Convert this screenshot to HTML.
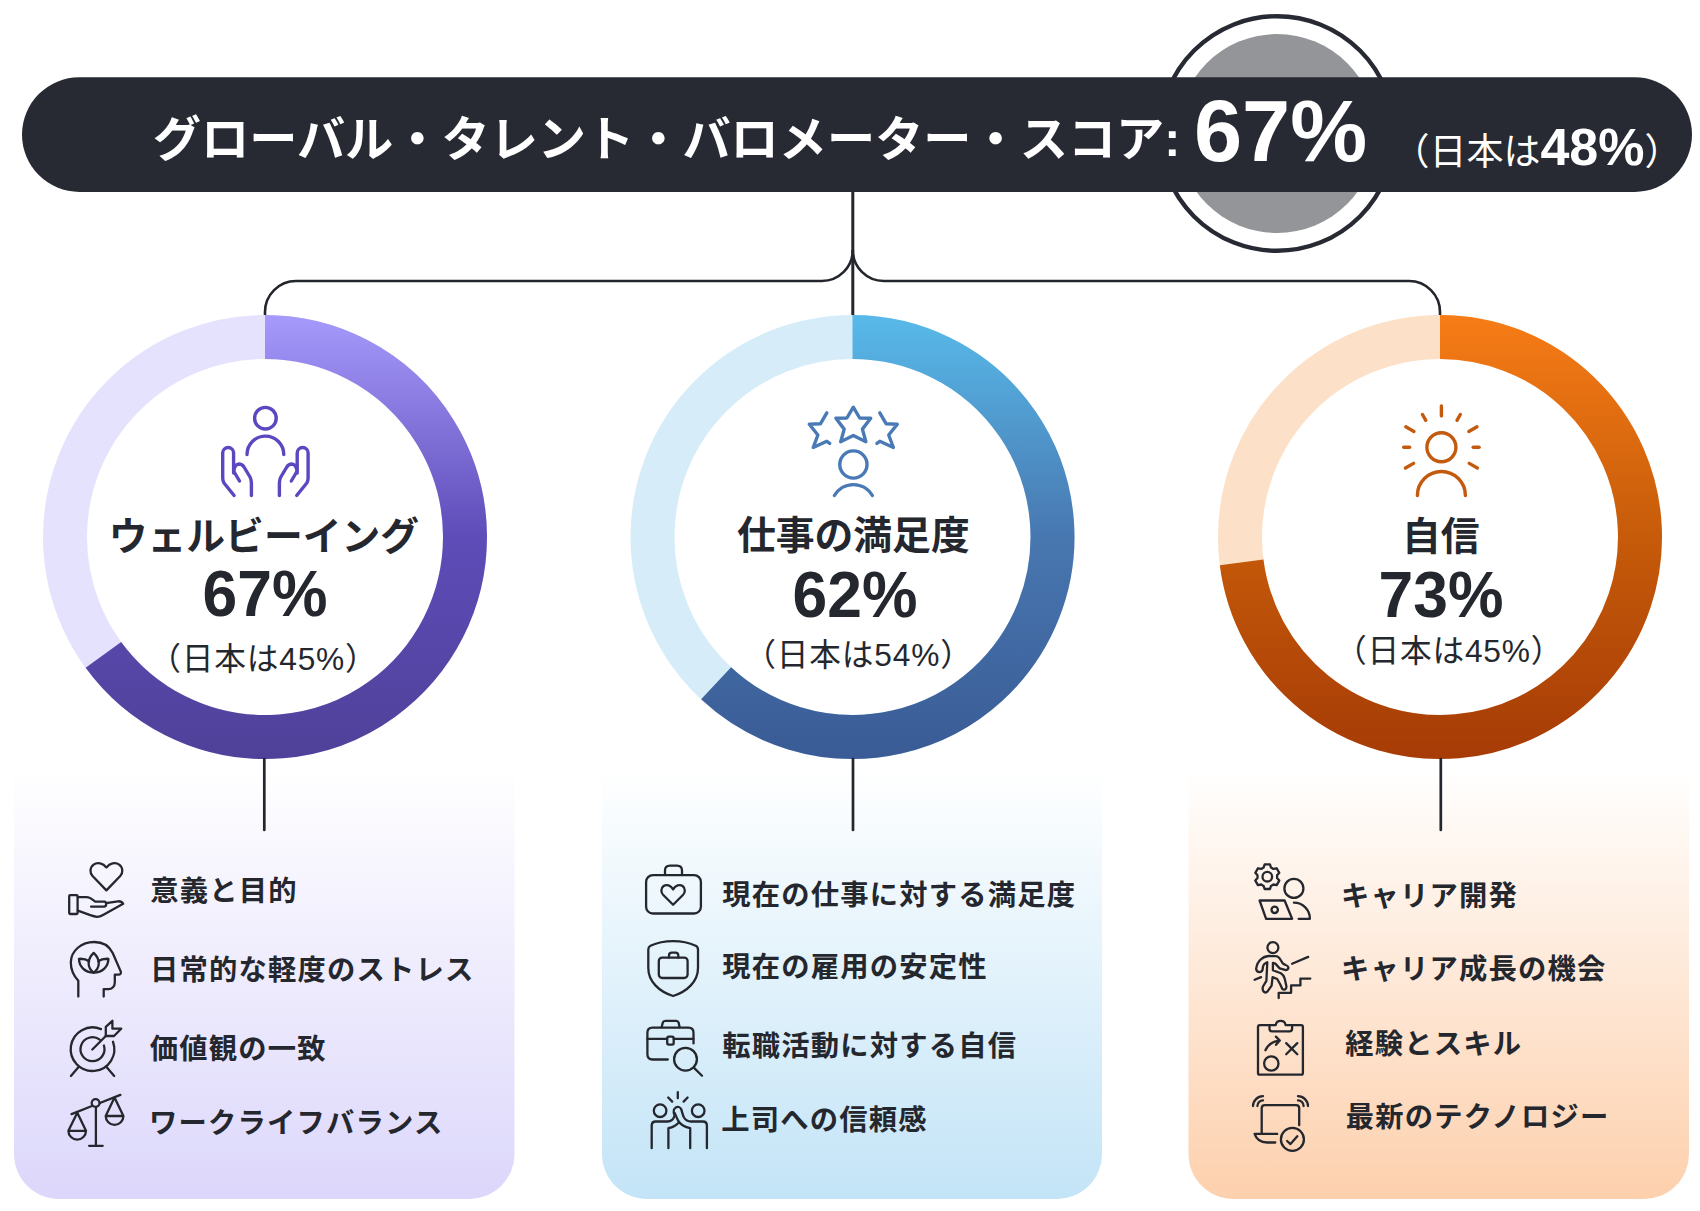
<!DOCTYPE html>
<html lang="ja"><head><meta charset="utf-8"><title>Global Talent Barometer</title>
<style>
html,body{margin:0;padding:0;background:#fff;}
body{width:1700px;height:1211px;position:relative;overflow:hidden;font-family:"Liberation Sans", "Noto Sans CJK JP", sans-serif;}
.t{position:absolute;line-height:1;white-space:nowrap;}
b{font-weight:700}
</style></head><body>
<svg width="1700" height="1211" viewBox="0 0 1700 1211" style="position:absolute;left:0;top:0"><defs><linearGradient id="cg0" x1="0" y1="0" x2="0" y2="1"><stop offset="0" stop-color="#ffffff"/><stop offset="1" stop-color="#dcd7fb"/></linearGradient><linearGradient id="cg1" x1="0" y1="0" x2="0" y2="1"><stop offset="0" stop-color="#ffffff"/><stop offset="1" stop-color="#c3e4f7"/></linearGradient><linearGradient id="cg2" x1="0" y1="0" x2="0" y2="1"><stop offset="0" stop-color="#ffffff"/><stop offset="1" stop-color="#fdd0ad"/></linearGradient><linearGradient id="rg0" gradientUnits="userSpaceOnUse" x1="0" y1="315" x2="0" y2="759"><stop offset="0" stop-color="#a69afc"/><stop offset="0.5" stop-color="#5e4cb8"/><stop offset="1" stop-color="#4f4199"/></linearGradient><linearGradient id="rg1" gradientUnits="userSpaceOnUse" x1="0" y1="315" x2="0" y2="759"><stop offset="0" stop-color="#58baea"/><stop offset="0.5" stop-color="#4877b0"/><stop offset="1" stop-color="#3a5b95"/></linearGradient><linearGradient id="rg2" gradientUnits="userSpaceOnUse" x1="0" y1="315" x2="0" y2="759"><stop offset="0" stop-color="#f77c16"/><stop offset="0.5" stop-color="#c65b0a"/><stop offset="1" stop-color="#a63b06"/></linearGradient></defs><circle cx="1277" cy="133.5" r="117.3" fill="#fff" stroke="#282a33" stroke-width="4.4"/>
<circle cx="1277" cy="133.5" r="99.5" fill="#939598"/>
<rect x="22" y="77.3" width="1670" height="114.6" rx="57.3" fill="#282a33"/>
<path d="M852.8,191 V315" stroke="#24262d" stroke-width="3" fill="none"/>
<path d="M852.8,250 A31,31 0 0 1 821.8,281 H296 A31,31 0 0 0 265,312 V315" stroke="#24262d" stroke-width="2.6" fill="none"/>
<path d="M852.8,250 A31,31 0 0 0 883.8,281 H1409 A31,31 0 0 1 1440,312 V315" stroke="#24262d" stroke-width="2.6" fill="none"/>
<path d="M14,767.5 H514.5 V1154 A45,45 0 0 1 469.5,1199 H59 A45,45 0 0 1 14,1154 Z" fill="url(#cg0)"/>
<path d="M602,767.5 H1102 V1154 A45,45 0 0 1 1057,1199 H647 A45,45 0 0 1 602,1154 Z" fill="url(#cg1)"/>
<path d="M1188.5,767.5 H1689 V1154 A45,45 0 0 1 1644,1199 H1233.5 A45,45 0 0 1 1188.5,1154 Z" fill="url(#cg2)"/>
<circle cx="265" cy="537" r="200.0" fill="#fff" stroke="#e5e2fd" stroke-width="44"/>
<path d="M265.00,337.00 A200.0,200.0 0 1 1 103.40,654.84" fill="none" stroke="url(#rg0)" stroke-width="44"/>
<path d="M264.3,759 V830" stroke="#24262d" stroke-width="2.7" stroke-linecap="round" fill="none"/>
<circle cx="852.5" cy="537" r="200.0" fill="#fff" stroke="#d6edf9" stroke-width="44"/>
<path d="M852.50,337.00 A200.0,200.0 0 1 1 716.10,683.27" fill="none" stroke="url(#rg1)" stroke-width="44"/>
<path d="M853,759 V830" stroke="#24262d" stroke-width="2.7" stroke-linecap="round" fill="none"/>
<circle cx="1440" cy="537" r="200.0" fill="#fff" stroke="#fde0c8" stroke-width="44"/>
<path d="M1440.00,337.00 A200.0,200.0 0 1 1 1241.62,562.41" fill="none" stroke="url(#rg2)" stroke-width="44"/>
<path d="M1440.8,759 V830" stroke="#24262d" stroke-width="2.7" stroke-linecap="round" fill="none"/>
<g transform="translate(210,395)" fill="none" stroke="#5a48c0" stroke-width="3.4" stroke-linecap="round" stroke-linejoin="round"><circle cx="55.4" cy="23.2" r="10.8"/><path d="M37,59.5 A18.4,18.4 0 0 1 73.8,59.5"/><path d="M24.1,100.5 L14,88 Q12.7,86 12.7,83 V58 A5.45,5.45 0 0 1 23.6,58 V76 L29.5,86"/><path d="M23.6,78 Q23.8,69.5 29,69 Q32,69 34,72 L40,82 Q41.4,84.5 41.4,88 V100.5"/><g transform="translate(110.8,0) scale(-1,1)"><path d="M24.1,100.5 L14,88 Q12.7,86 12.7,83 V58 A5.45,5.45 0 0 1 23.6,58 V76 L29.5,86"/><path d="M23.6,78 Q23.8,69.5 29,69 Q32,69 34,72 L40,82 Q41.4,84.5 41.4,88 V100.5"/></g></g>
<g transform="translate(798,395)" fill="none" stroke="#4a7ab6" stroke-width="3.4" stroke-linecap="round" stroke-linejoin="round"><path d="M55.30,12.20 L61.70,23.00 L72.70,23.20 L64.40,34.10 L67.90,46.70 L55.30,40.50 L42.70,46.70 L46.20,34.10 L37.90,23.20 L48.90,23.00 Z"/><path d="M28.80,17.90 L22.40,28.80 L11.30,29.30 L19.90,40.00 L15.20,52.50 L28.80,46.30 L31.70,48.40"/><path d="M81.80,17.90 L88.20,28.80 L99.30,29.30 L90.70,40.00 L95.40,52.50 L81.80,46.30 L78.90,48.40"/><circle cx="55.4" cy="69.5" r="13.6"/><path d="M36.4,100.5 A22,22 0 0 1 74.4,100.5"/></g>
<g transform="translate(1386,395)" fill="none" stroke="#c45a0e" stroke-width="3.4" stroke-linecap="round" stroke-linejoin="round"><circle cx="55.4" cy="52.3" r="14.5"/><path d="M31.4,100.5 A24,24 0 0 1 79.4,100.5"/><path d="M55.40,20.90 L55.40,10.90"/><path d="M71.00,25.28 L74.35,19.48"/><path d="M39.80,25.28 L36.45,19.48"/><path d="M82.85,36.45 L90.99,31.75"/><path d="M27.95,36.45 L19.81,31.75"/><path d="M87.20,52.30 L93.10,52.30"/><path d="M23.60,52.30 L17.70,52.30"/><path d="M83.20,68.35 L91.34,73.05"/><path d="M27.60,68.35 L19.46,73.05"/></g>
<g transform="translate(60,855)" fill="none" stroke="#25272e" stroke-width="2.3" stroke-linecap="round" stroke-linejoin="round"><path d="M46.4,12.4 C43,8.3 37.5,6.8 33.6,9.6 C29.6,12.6 29.6,18.3 32.8,21.3 L46.4,35.4 L60,21.3 C63.2,18.3 63.2,12.6 59.2,9.6 C55.3,6.8 49.8,8.3 46.4,12.4 Z"/><rect x="9.2" y="40.2" width="8.4" height="18.8" rx="1"/><path d="M17.8,42.2 H26.6 C30,42.2 32.5,44.5 35.3,46.6 H44.3 Q46.2,46.8 46.2,49 Q46.2,51.6 44,51.6 H31"/><path d="M46,48.2 L58,46.3 Q61.5,46 63.2,48.8 L43,60 Q40,61.8 37,61.8 Q34,61.5 31,60.4 L17.8,55.6"/></g>
<g transform="translate(60,930)" fill="none" stroke="#25272e" stroke-width="2.3" stroke-linecap="round" stroke-linejoin="round"><path d="M18.3,66.6 V50.8 C13,45 10.8,39 10.8,32.5 C11,20.5 21.5,12 34.3,12 C43,12 49.5,16.5 52.7,23 L60.8,41.6 Q61.5,44.6 58.4,44.6 H54.8 V52.4 C54.8,56.2 52,59.1 48.5,59.1 H43.7 V66.6"/><path d="M33.7,22.9 C30,26.5 28.6,30 28.6,33 C28.6,37 30.8,40.5 33.7,42.7 C36.6,40.5 38.8,37 38.8,33 C38.8,30 37.4,26.5 33.7,22.9 Z"/><path d="M33.7,42.7 C25,42.5 19,36.5 19,28.8 C23.5,28.6 27.2,29.8 29.2,31.2"/><path d="M33.7,42.7 C42.4,42.5 48.4,36.5 48.4,28.8 C43.9,28.6 40.2,29.8 38.2,31.2"/></g>
<g transform="translate(60,1010)" fill="none" stroke="#25272e" stroke-width="2.3" stroke-linecap="round" stroke-linejoin="round"><path d="M52.99,31.74 A21.8,21.8 0 1 1 41.02,19.13"/><path d="M43.91,35.49 A12,12 0 1 1 39.72,29.62"/><path d="M32.3,39.5 L45.8,26"/><path d="M45.8,26 V16.8 L52.4,10.8 V18.7 H61.2 L54,26 Z"/><path d="M10.9,66 L18.8,56.8 M54.2,66 L46.3,56.8"/></g>
<g transform="translate(60,1085)" fill="none" stroke="#25272e" stroke-width="2.3" stroke-linecap="round" stroke-linejoin="round"><path d="M11.5,29.1 L32,21.04 M39.9,17.96 L60.4,9.9"/><circle cx="35.6" cy="18" r="3.9" fill="#fff" fill-opacity="0"/><path d="M35.9,22.2 V60.8 M29.1,60.8 H42.7"/><path d="M8.4,45.8 L17.3,27.8 L26,45.8 M8.4,45.8 H26 A8.8,8.8 0 0 1 8.4,45.8"/><path d="M45.7,31 L54.5,12.4 L63.4,31 M45.7,31 H63.4 A8.85,8.85 0 0 1 45.7,31"/></g>
<g transform="translate(635,855)" fill="none" stroke="#25272e" stroke-width="2.3" stroke-linecap="round" stroke-linejoin="round"><rect x="11.1" y="20.1" width="54.8" height="38.4" rx="6.8"/><path d="M30,20.1 V15.5 Q30,10.6 35,10.6 H42 Q47,10.6 47,15.5 V20.1"/><path d="M38.1,34.4 C35.8,30.3 31.5,29 28.6,31 C25.6,33.2 25.8,37.5 28.3,40 L38.1,49.8 L47.9,40 C50.4,37.5 50.6,33.2 47.6,31 C44.7,29 40.4,30.3 38.1,34.4 Z"/></g>
<g transform="translate(635,930)" fill="none" stroke="#25272e" stroke-width="2.3" stroke-linecap="round" stroke-linejoin="round"><path d="M38.1,11.2 C29,11.2 20.5,13.5 15.5,15.8 Q13.3,17 13.3,19.5 V38 C13.3,51.5 24,61.5 38.1,66 C52.2,61.5 63,51.5 63,38 V19.5 Q63,17 60.7,15.8 C55.7,13.5 47.2,11.2 38.1,11.2 Z"/><rect x="23.8" y="27.6" width="28.8" height="20.4" rx="3.4"/><path d="M34,27.6 V25.5 Q34,22.7 36.8,22.7 H40.5 Q43.3,22.7 43.3,25.5 V27.6"/></g>
<g transform="translate(635,1010)" fill="none" stroke="#25272e" stroke-width="2.3" stroke-linecap="round" stroke-linejoin="round"><path d="M32.8,49.5 H17.6 Q12.4,49.5 12.4,44.3 V22.8 Q12.4,17.6 17.6,17.6 H53.3 Q58.5,17.6 58.5,22.8 V33.4"/><path d="M26.6,17.2 L27.8,12.6 Q28.3,10.8 30.2,10.8 H41.2 Q43.1,10.8 43.6,12.6 L44.6,17.2"/><path d="M12.4,28.8 H32.2 M38.7,28.8 H58.5"/><rect x="32.2" y="26.6" width="6.5" height="8.1" rx="1.6"/><circle cx="50.5" cy="49.2" r="11.4"/><path d="M58.8,57.6 L67,65.8"/></g>
<g transform="translate(635,1085)" fill="none" stroke="#25272e" stroke-width="2.3" stroke-linecap="round" stroke-linejoin="round"><circle cx="25.1" cy="25.7" r="6.3"/><circle cx="63.2" cy="25.7" r="6.3"/><path d="M16.7,63.2 V40.6 Q16.7,36.5 20.8,36.5 H32.5 C36,36.5 38.6,34 39.6,30.5 C38.2,27.2 38.5,24 40.6,22.6 C42.6,21.2 45.3,21.8 46.3,24.5 C47.2,27 47.6,30 49,32.5 C50.6,35.2 52.6,36.5 56,36.5 H67.8 Q71.9,36.5 71.9,40.6 V63.2"/><path d="M55.2,63.2 V43.2 C50.5,42 46.5,40.2 44,37 C42,34 40.8,30.5 39.8,28.2"/><path d="M33.4,63.2 V43.2 C38,42.2 41.5,40.2 44,37.2"/><path d="M42.8,7.2 V13.2 M33.2,12.5 L37.2,16.6 M52.6,12.5 L48.6,16.6"/></g>
<g transform="translate(1245,855)" fill="none" stroke="#25272e" stroke-width="2.3" stroke-linecap="round" stroke-linejoin="round"><path d="M18.59,12.52 L19.68,9.38 L24.92,9.38 L26.01,12.52 L28.40,13.90 L31.66,13.27 L34.28,17.81 L32.10,20.32 L32.10,23.08 L34.28,25.59 L31.66,30.13 L28.40,29.50 L26.01,30.88 L24.92,34.02 L19.68,34.02 L18.59,30.88 L16.20,29.50 L12.94,30.13 L10.32,25.59 L12.50,23.08 L12.50,20.32 L10.32,17.81 L12.94,13.27 L16.20,13.90 Z"/><circle cx="22.3" cy="21.7" r="4.8"/><circle cx="48.9" cy="33.4" r="9.5"/><path d="M48.9,47.7 A16,16 0 0 1 64.9,63.8 H53.6"/><path d="M14.6,45.5 H39.6 L47.1,63.8 H21.1 Z"/><circle cx="29.7" cy="54.8" r="3.2"/></g>
<g transform="translate(1245,930)" fill="none" stroke="#25272e" stroke-width="2.3" stroke-linecap="round" stroke-linejoin="round"><circle cx="27.9" cy="17.6" r="5.5"/><path d="M22.3,32.2 L21.4,50.8 L18,56.5 Q17,60 18.8,61.8 Q20.8,63.2 22.2,61.8 L26.6,55.7 L27.6,47.1 L32.2,49 L35.3,54.5 L37.2,58.8 Q38.5,60 40.2,59.4 Q41.8,58 41.3,55.7 L39.6,48.3 Q38.5,45 35.9,43.3 L27.9,40.2 V32.8 L30.3,33.6 L34.7,38.4 L40.9,40.2 Q43.5,39.8 43.4,37.4 Q43,35.6 40.5,35 L37.8,33.4 L34.7,28.5 Q33,26.4 31,26.2 L23.5,26 Q19,26.5 16.1,29.1 Q12,32.5 11.1,38.8 Q11.5,42 14.9,42.1 Q17.3,41.6 17.6,39.5 L18,36.5 Q18.6,34 20.4,33.2 Z"/><path d="M47.1,33.7 L63.2,26.9 M9.6,49.8 L16.1,47.1"/><path d="M33.7,68.1 V62.8 H46.1 V55.4 H55.4 V48.6 H65.3"/></g>
<g transform="translate(1245,1005)" fill="none" stroke="#25272e" stroke-width="2.3" stroke-linecap="round" stroke-linejoin="round"><rect x="13" y="20.1" width="44.9" height="49.6" rx="1.8"/><path d="M24.5,20.1 V23.8 Q24.5,26.3 27,26.3 H44.6 Q47.1,26.3 47.1,23.8 V20.1 H40.6 A5,5 0 0 0 30.7,20.1 Z" fill="#fde6d4"/><path d="M20.4,45.2 Q24,37.2 33.4,35.6 M30.9,31.6 L34.8,35.6 L31,39.8"/><path d="M41.2,38.1 L52.3,49.2 M52.3,38.1 L41.2,49.2"/><circle cx="26.3" cy="58.5" r="7.2"/></g>
<g transform="translate(1245,1080)" fill="none" stroke="#25272e" stroke-width="2.3" stroke-linecap="round" stroke-linejoin="round"><path d="M16.7,53.9 V28.2 Q16.7,25.1 19.8,25.1 H51.1 Q54.2,25.1 54.2,28.2 V45.2"/><path d="M32.2,53.9 H9.6 Q12.5,62.5 22,62.5 H30.3"/><circle cx="47.4" cy="59.4" r="11.5"/><path d="M42.1,61 L45.5,64.1 L52.3,56.3"/><path d="M8,26 A10,10 0 0 1 18,16.2 M12.4,26 A5.6,5.6 0 0 1 18,20.4"/><path d="M63,26 A10,10 0 0 0 53,16.2 M58.6,26 A5.6,5.6 0 0 0 53,20.4"/></g></svg>
<div class="t" style="left:152.80px;top:114.90px;font-size:48.2px;font-weight:700;color:#fff;">グローバル・タレント・バロメーター・スコア:</div><div class="t" style="left:1194.00px;top:88.40px;font-size:86.5px;font-weight:700;color:#fff;">67%</div><div class="t" style="left:1392.40px;top:120.90px;font-size:37px;font-weight:400;color:#fff;">（日本は<span style="font-size:52px;font-weight:700">48%</span>）</div><div class="t" style="left:-136.10px;width:800px;text-align:center;top:518.30px;font-size:38.8px;font-weight:700;color:#25272e;letter-spacing:0px;">ウェルビーイング</div><div class="t" style="left:-134.70px;width:800px;text-align:center;top:561.30px;font-size:65px;font-weight:700;color:#25272e;"><span style="display:inline-block;transform:scaleX(0.96)">67%</span></div><div class="t" style="left:-136.60px;width:800px;text-align:center;top:643.90px;font-size:31.7px;font-weight:400;color:#25272e;letter-spacing:0.8px;">（日本は45%）</div><div class="t" style="left:453.30px;width:800px;text-align:center;top:517.00px;font-size:38.8px;font-weight:700;color:#25272e;letter-spacing:0px;">仕事の満足度</div><div class="t" style="left:454.60px;width:800px;text-align:center;top:562.00px;font-size:65px;font-weight:700;color:#25272e;"><span style="display:inline-block;transform:scaleX(0.96)">62%</span></div><div class="t" style="left:458.50px;width:800px;text-align:center;top:640.00px;font-size:31.7px;font-weight:400;color:#25272e;letter-spacing:0.8px;">（日本は54%）</div><div class="t" style="left:1040.70px;width:800px;text-align:center;top:517.90px;font-size:38.8px;font-weight:700;color:#25272e;letter-spacing:0px;">自信</div><div class="t" style="left:1041.50px;width:800px;text-align:center;top:561.50px;font-size:65px;font-weight:700;color:#25272e;"><span style="display:inline-block;transform:scaleX(0.96)">73%</span></div><div class="t" style="left:1049.10px;width:800px;text-align:center;top:635.80px;font-size:31.7px;font-weight:400;color:#25272e;letter-spacing:0.8px;">（日本は45%）</div><div class="t" style="left:150.20px;top:877.00px;font-size:28.3px;font-weight:700;color:#25272e;letter-spacing:1.2px;">意義と目的</div><div class="t" style="left:150.00px;top:955.60px;font-size:28.3px;font-weight:700;color:#25272e;letter-spacing:1.2px;">日常的な軽度のストレス</div><div class="t" style="left:149.80px;top:1034.70px;font-size:28.3px;font-weight:700;color:#25272e;letter-spacing:1.2px;">価値観の一致</div><div class="t" style="left:149.00px;top:1108.50px;font-size:28.3px;font-weight:700;color:#25272e;letter-spacing:1.2px;">ワークライフバランス</div><div class="t" style="left:722.20px;top:880.90px;font-size:28.3px;font-weight:700;color:#25272e;letter-spacing:1.2px;">現在の仕事に対する満足度</div><div class="t" style="left:722.20px;top:952.50px;font-size:28.3px;font-weight:700;color:#25272e;letter-spacing:1.2px;">現在の雇用の安定性</div><div class="t" style="left:722.20px;top:1032.20px;font-size:28.3px;font-weight:700;color:#25272e;letter-spacing:1.2px;">転職活動に対する自信</div><div class="t" style="left:721.20px;top:1105.90px;font-size:28.3px;font-weight:700;color:#25272e;letter-spacing:1.2px;">上司への信頼感</div><div class="t" style="left:1341.00px;top:882.00px;font-size:28.3px;font-weight:700;color:#25272e;letter-spacing:1.2px;">キャリア開発</div><div class="t" style="left:1341.00px;top:955.00px;font-size:28.3px;font-weight:700;color:#25272e;letter-spacing:1.2px;">キャリア成長の機会</div><div class="t" style="left:1345.20px;top:1030.10px;font-size:28.3px;font-weight:700;color:#25272e;letter-spacing:1.2px;">経験とスキル</div><div class="t" style="left:1345.80px;top:1102.80px;font-size:28.3px;font-weight:700;color:#25272e;letter-spacing:1.2px;">最新のテクノロジー</div>
</body></html>
